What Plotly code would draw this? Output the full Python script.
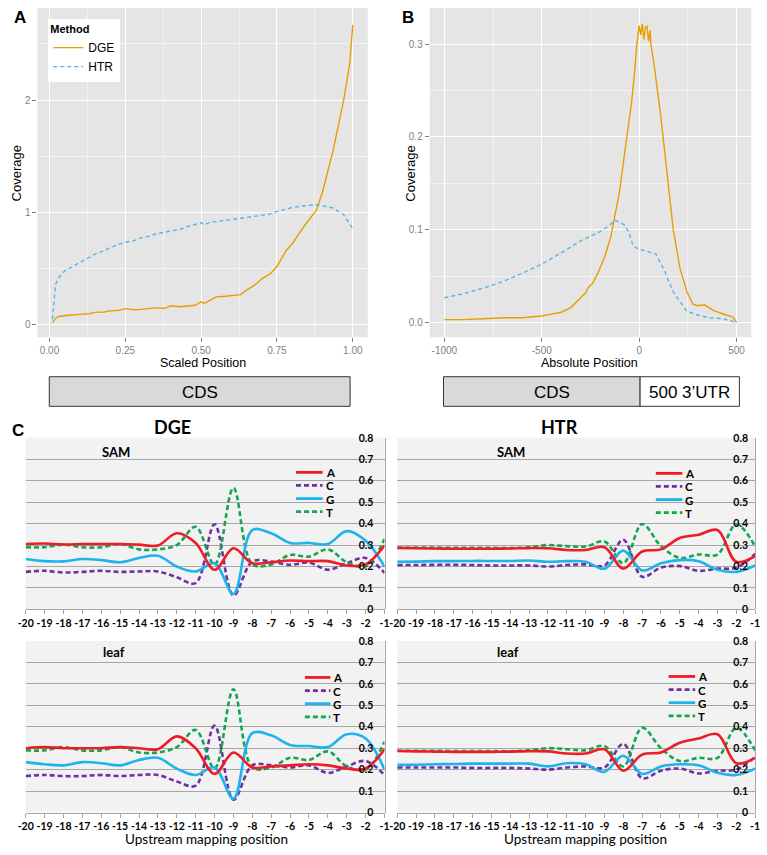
import plotly.graph_objects as go

W, H = 767, 855

# ---------------- Panel A data (scaled position) ----------------
scaled_pos = [0.01, 0.015, 0.02, 0.03, 0.05, 0.07, 0.10, 0.13, 0.15, 0.18, 0.20, 0.23, 0.25,
              0.28, 0.30, 0.33, 0.35, 0.38, 0.40, 0.43, 0.45, 0.48, 0.50, 0.51, 0.53, 0.55,
              0.58, 0.60, 0.63, 0.65, 0.68, 0.70, 0.73, 0.75, 0.78, 0.80, 0.84, 0.88, 0.90,
              0.935, 0.97, 0.99, 1.00]
scaled_dge = [0.02, 0.045, 0.06, 0.075, 0.083, 0.088, 0.094, 0.10, 0.112, 0.115, 0.125, 0.13, 0.145,
              0.135, 0.138, 0.145, 0.152, 0.148, 0.17, 0.162, 0.165, 0.175, 0.205, 0.19, 0.22, 0.25,
              0.255, 0.26, 0.27, 0.31, 0.36, 0.41, 0.46, 0.52, 0.66, 0.72, 0.88, 1.02, 1.18,
              1.55, 2.0, 2.33, 2.67]
scaled_htr = [0.05, 0.25, 0.36, 0.42, 0.48, 0.51, 0.555, 0.60, 0.63, 0.66, 0.687, 0.72, 0.735,
              0.75, 0.775, 0.79, 0.81, 0.825, 0.833, 0.85, 0.87, 0.89, 0.91, 0.89, 0.915, 0.92,
              0.93, 0.935, 0.945, 0.955, 0.965, 0.975, 0.99, 1.01, 1.03, 1.045, 1.06, 1.07, 1.06,
              1.04, 0.98, 0.90, 0.855]

# ---------------- Panel B data (absolute position) ----------------
abs_pos_dge = [-1000, -900, -800, -700, -600, -500, -450, -400, -350, -300, -275, -260, -240, -210,
               -175, -145, -100, -70, -40, -25, -12, 0, 8, 16, 24, 32, 40, 48, 56, 60, 75, 110,
               145, 175, 210, 245, 275, 300, 335, 380, 445, 480, 500]
abs_dge = [0.003, 0.003, 0.004, 0.005, 0.005, 0.007, 0.009, 0.011, 0.016, 0.026, 0.032, 0.038, 0.042, 0.054,
           0.072, 0.093, 0.142, 0.19, 0.235, 0.266, 0.30, 0.32, 0.31, 0.322, 0.305, 0.318, 0.32, 0.303, 0.315,
           0.30, 0.28, 0.224, 0.157, 0.10, 0.058, 0.033, 0.02, 0.018, 0.019, 0.013, 0.008, 0.006, 0.0]
abs_pos_htr = [-1000, -900, -800, -700, -600, -500, -400, -300, -200, -150, -125, -100, -75, -55, -30,
               0, 50, 85, 125, 175, 245, 300, 360, 430, 500]
abs_htr = [0.0265, 0.031, 0.037, 0.044, 0.053, 0.063, 0.075, 0.088, 0.098, 0.105, 0.11, 0.108, 0.105,
           0.098, 0.082, 0.079, 0.076, 0.074, 0.058, 0.033, 0.012, 0.008, 0.005, 0.004, 0.0]

# ---------------- Panel C data (nucleotide frequency) ----------------
upstream = list(range(-20, 0))
upstream_labels = [str(v) for v in upstream]
freq_ticks = [0, 0.1, 0.2, 0.3, 0.4, 0.5, 0.6, 0.7, 0.8]
freq_labels = ["0", "0.1", "0.2", "0.3", "0.4", "0.5", "0.6", "0.7", "0.8"]

dge_sam_A = [.305, .307, .303, .305, .305, .305, .302, .298, .355, .31, .185, .285, .215, .22, .228, .225, .225, .205, .21, .298]
dge_sam_C = [.175, .18, .172, .175, .18, .175, .177, .177, .15, .123, .397, .065, .223, .223, .208, .218, .185, .215, .24, .17]
dge_sam_G = [.235, .225, .224, .235, .23, .22, .24, .25, .20, .177, .215, .072, .37, .355, .31, .31, .305, .365, .32, .20]
dge_sam_T = [.29, .29, .302, .29, .29, .305, .28, .28, .30, .385, .208, .566, .21, .21, .254, .246, .28, .22, .20, .328]

htr_sam_A = [.287, .285, .284, .283, .283, .283, .284, .286, .285, .277, .277, .29, .19, .27, .28, .333, .348, .37, .222, .248]
htr_sam_C = [.207, .207, .208, .208, .207, .205, .205, .205, .200, .207, .21, .205, .325, .152, .195, .202, .18, .19, .195, .259]
htr_sam_G = [.222, .223, .225, .225, .226, .226, .226, .228, .222, .225, .222, .19, .274, .182, .215, .23, .225, .185, .175, .205]
htr_sam_T = [.287, .288, .288, .287, .287, .287, .286, .29, .30, .295, .293, .317, .215, .398, .295, .24, .256, .256, .397, .294]

dge_leaf_A = [.30, .305, .30, .30, .30, .305, .30, .295, .355, .30, .18, .28, .21, .215, .22, .225, .22, .205, .205, .295]
dge_leaf_C = [.17, .175, .17, .17, .175, .17, .175, .175, .145, .125, .405, .06, .22, .22, .21, .22, .185, .215, .24, .175]
dge_leaf_G = [.235, .225, .22, .235, .23, .22, .245, .255, .205, .175, .21, .065, .37, .36, .315, .31, .305, .365, .345, .20]
dge_leaf_T = [.29, .29, .305, .29, .29, .305, .28, .28, .305, .385, .205, .575, .21, .21, .255, .245, .285, .215, .20, .33]

htr_leaf_A = [.287, .285, .284, .283, .283, .283, .284, .286, .285, .275, .275, .295, .195, .27, .28, .325, .345, .365, .23, .255]
htr_leaf_C = [.21, .21, .21, .21, .208, .208, .208, .205, .20, .21, .215, .21, .32, .16, .195, .205, .182, .195, .20, .26]
htr_leaf_G = [.222, .223, .225, .226, .228, .228, .228, .228, .215, .23, .225, .19, .265, .18, .215, .225, .22, .185, .175, .205]
htr_leaf_T = [.288, .288, .288, .287, .287, .287, .286, .29, .30, .295, .29, .31, .215, .395, .30, .24, .255, .255, .395, .29]

nucleotides = ["A", "C", "G", "T"]
nuc_colors = {"A": "#EE1C25", "C": "#7030A0", "G": "#1FB3EE", "T": "#13A651"}
nuc_dash = {"A": "solid", "C": "5px,3px", "G": "solid", "T": "5px,3px"}

DGE_COL = "#E69F00"
HTR_COL = "#56B4E9"


def fx(p):
    return p / W


def fy(p):
    return 1 - p / H


fig = go.Figure()

# Panel A
fig.add_trace(go.Scatter(x=scaled_pos, y=scaled_dge, mode="lines", name="DGE",
                         line=dict(color=DGE_COL, width=1.4), xaxis="x", yaxis="y"))
fig.add_trace(go.Scatter(x=scaled_pos, y=scaled_htr, mode="lines", name="HTR",
                         line=dict(color=HTR_COL, width=1.4, dash="4px,3px"), xaxis="x", yaxis="y"))
# Panel B
fig.add_trace(go.Scatter(x=abs_pos_dge, y=abs_dge, mode="lines", name="DGE", showlegend=False,
                         line=dict(color=DGE_COL, width=1.4), xaxis="x2", yaxis="y2"))
fig.add_trace(go.Scatter(x=abs_pos_htr, y=abs_htr, mode="lines", name="HTR", showlegend=False,
                         line=dict(color=HTR_COL, width=1.4, dash="4px,3px"), xaxis="x2", yaxis="y2"))

panelC = [
    ("x3", "y3", {"A": dge_sam_A, "C": dge_sam_C, "G": dge_sam_G, "T": dge_sam_T}),
    ("x4", "y4", {"A": htr_sam_A, "C": htr_sam_C, "G": htr_sam_G, "T": htr_sam_T}),
    ("x5", "y5", {"A": dge_leaf_A, "C": dge_leaf_C, "G": dge_leaf_G, "T": dge_leaf_T}),
    ("x6", "y6", {"A": htr_leaf_A, "C": htr_leaf_C, "G": htr_leaf_G, "T": htr_leaf_T}),
]
for xa, ya, series in panelC:
    for nuc in ["C", "T", "G", "A"]:
        fig.add_trace(go.Scatter(x=upstream, y=series[nuc], mode="lines", name=nuc, showlegend=False,
                                 line=dict(color=nuc_colors[nuc], width=2.6, dash=nuc_dash[nuc],
                                           shape="spline", smoothing=1.0),
                                 xaxis=xa, yaxis=ya))

gg_tick = dict(family="Liberation Sans, Arial", size=10, color="#7F7F7F")
gg_axis = dict(showgrid=True, gridcolor="white", gridwidth=1.2, zeroline=False,
               ticks="outside", ticklen=4, tickcolor="#7F7F7F", tickwidth=1,
               tickfont=gg_tick, showline=False)

layout = dict(
    width=W, height=H, margin=dict(l=0, r=0, t=0, b=0),
    paper_bgcolor="white", plot_bgcolor="rgba(0,0,0,0)",
    font=dict(family="Liberation Sans, Arial", color="black"),
    xaxis=dict(domain=[fx(30), fx(366)], range=[-0.0395, 1.0495], anchor="y",
               tickvals=[0, 0.25, 0.5, 0.75, 1.0], ticktext=["0.00", "0.25", "0.50", "0.75", "1.00"],
               minor=dict(tickvals=[0.125, 0.375, 0.625, 0.875], showgrid=True, gridcolor="#F2F2F2",
                          gridwidth=0.6, ticks=""),
               **gg_axis),
    yaxis=dict(domain=[fy(336), fy(2)], range=[-0.11, 2.82], anchor="x",
               tickvals=[0, 1, 2], ticktext=["0", "1", "2"],
               minor=dict(tickvals=[0.5, 1.5, 2.5], showgrid=True, gridcolor="#F2F2F2",
                          gridwidth=0.6, ticks=""),
               **gg_axis),
    xaxis2=dict(domain=[fx(429), fx(756)], range=[-1075, 575], anchor="y2",
                tickvals=[-1000, -500, 0, 500], ticktext=["-1000", "-500", "0", "500"],
                minor=dict(tickvals=[-750, -250, 250], showgrid=True, gridcolor="#F2F2F2",
                           gridwidth=0.6, ticks=""),
                **gg_axis),
    yaxis2=dict(domain=[fy(336), fy(2)], range=[-0.016, 0.339], anchor="x2",
                tickvals=[0, 0.1, 0.2, 0.3], ticktext=["0.0", "0.1", "0.2", "0.3"],
                minor=dict(tickvals=[0.05, 0.15, 0.25], showgrid=True, gridcolor="#F2F2F2",
                           gridwidth=0.6, ticks=""),
                **gg_axis),
    legend=dict(x=fx(41), y=fy(13), xanchor="left", yanchor="top", bgcolor="white",
                title=dict(text="<b>Method</b>", font=dict(size=11, family="Liberation Sans, Arial")),
                font=dict(size=12, family="Liberation Sans, Arial"), itemwidth=30,
                tracegroupgap=0),
)

c_font = dict(family="Lato, Open Sans", size=10.5, color="black", weight="bold")
c_dom = {
    "3": ([fx(18), fx(383)], [fy(612), fy(438)], 9),
    "4": ([fx(396), fx(760)], [fy(612), fy(438)], 5),
    "5": ([fx(18), fx(383)], [fy(818), fy(644)], 9),
    "6": ([fx(396), fx(760)], [fy(818), fy(644)], 5),
}
for k, (xd, yd, standoff) in c_dom.items():
    layout["xaxis" + k] = dict(domain=xd, range=[-20, -1], anchor="y" + k,
                               tickvals=upstream, ticktext=upstream_labels,
                               showgrid=False, zeroline=False, showline=True, linecolor="#A6A6A6",
                               linewidth=1, ticks="outside", ticklen=4, tickcolor="#A6A6A6",
                               tickfont=c_font)
    layout["yaxis" + k] = dict(domain=yd, range=[0, 0.8], anchor="free", position=xd[1], side="left",
                               tickvals=freq_ticks, ticktext=freq_labels,
                               ticklabelstandoff=standoff,
                               showgrid=True, gridcolor="#A6A6A6", gridwidth=1, zeroline=False,
                               showline=True, linecolor="#A6A6A6", linewidth=1, ticks="",
                               tickfont=c_font)

shapes = []
# panel backgrounds
for xr, yr, col in [("x", "y", "#E5E5E5"), ("x2", "y2", "#E5E5E5"),
                    ("x3", "y3", "#F2F2F2"), ("x4", "y4", "#F2F2F2"),
                    ("x5", "y5", "#F2F2F2"), ("x6", "y6", "#F2F2F2")]:
    shapes.append(dict(type="rect", xref=xr + " domain", yref=yr + " domain", x0=0, x1=1, y0=0, y1=1,
                       fillcolor=col, line=dict(width=0), layer="below"))

# CDS / UTR boxes
box_line = dict(color="#333333", width=1)
shapes.append(dict(type="rect", xref="paper", yref="paper", x0=fx(42), x1=fx(348), y0=fy(406), y1=fy(376),
                   fillcolor="#D9D9D9", line=box_line))
shapes.append(dict(type="rect", xref="paper", yref="paper", x0=fx(443), x1=fx(643), y0=fy(406), y1=fy(376),
                   fillcolor="#D9D9D9", line=box_line))
shapes.append(dict(type="rect", xref="paper", yref="paper", x0=fx(643), x1=fx(744), y0=fy(406), y1=fy(376),
                   fillcolor="white", line=box_line))

annotations = []


def ann(text, x, y, size, bold=False, family="Liberation Sans, Arial", xanchor="center",
        color="black", angle=0):
    annotations.append(dict(text=("<b>%s</b>" % text) if bold else text, x=fx(x), y=fy(y),
                            xref="paper", yref="paper", showarrow=False, xanchor=xanchor,
                            yanchor="middle", textangle=angle,
                            font=dict(size=size, family=family, color=color)))


ann("A", 12, 12, 17, bold=True)
ann("B", 407, 12, 17, bold=True)
ann("C", 10, 431, 17, bold=True)
ann("Coverage", 9, 170, 13, angle=-90)
ann("Coverage", 410, 170, 13, angle=-90)
ann("Scaled Position", 198, 362, 12.5)
ann("Absolute Position", 592, 362, 12.5)
ann("CDS", 195, 392, 17)
ann("CDS", 553, 392, 17)
ann("500 3’UTR", 693, 392, 17)

lato = "Lato, Open Sans"
ann("DGE", 167, 427, 18, bold=True, family=lato)
ann("HTR", 561, 427, 18, bold=True, family=lato)
ann("SAM", 110, 452, 13, bold=True, family=lato)
ann("SAM", 512, 452, 13, bold=True, family=lato)
ann("leaf", 108, 655, 13, bold=True, family=lato)
ann("leaf", 509, 655, 13, bold=True, family=lato)
ann("Upstream mapping position", 202, 845, 13.5, family=lato)
ann("Upstream mapping position", 587, 845, 13.5, family=lato)

# Panel C legends
legend_pos = [(293, 320, 473), (659, 686, 474), (302, 328, 681), (672, 699, 680)]
spacing = 13.3
for (lx0, lx1, ly0) in legend_pos:
    for i, nuc in enumerate(nucleotides):
        yy = ly0 + i * spacing
        shapes.append(dict(type="line", xref="paper", yref="paper", x0=fx(lx0), x1=fx(lx1),
                           y0=fy(yy), y1=fy(yy),
                           line=dict(color=nuc_colors[nuc], width=2.8, dash=nuc_dash[nuc])))
        annotations.append(dict(text="<b>%s</b>" % nuc, x=fx(lx1 + 2), y=fy(yy), xref="paper",
                                yref="paper", showarrow=False, xanchor="left", yanchor="middle",
                                height=12, borderpad=0,
                                font=dict(size=11.5, family=lato, color="black")))

layout["shapes"] = shapes
layout["annotations"] = annotations
fig.update_layout(**layout)

fig.write_html("out.html", config={"displayModeBar": False},
               post_script="document.body.style.margin='0';document.body.style.padding='0';")
